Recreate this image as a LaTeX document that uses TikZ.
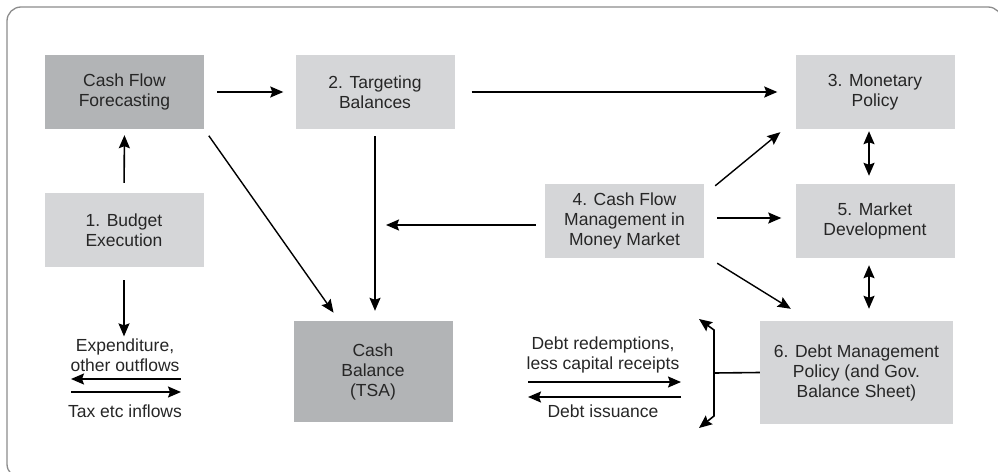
\documentclass[tikz,border=0pt]{standalone}
\usepackage{fontspec}
\setmainfont{Liberation Sans}
\usetikzlibrary{arrows.meta}
\definecolor{boxdark}{HTML}{B2B4B6}
\definecolor{boxlight}{HTML}{D5D6D8}
\definecolor{ink}{HTML}{262626}
\definecolor{rim}{HTML}{8C8C8C}
\tikzset{
  darkbox/.style={fill=boxdark,minimum width=159pt,minimum height=74pt,align=center,text=ink,font=\fontsize{17.5}{20}\selectfont},
  lightbox/.style={darkbox,fill=boxlight},
  flowlabel/.style={align=center,text=ink,inner sep=0pt,font=\fontsize{17.5}{20}\selectfont},
  stream/.style={line width=1.6pt,-{Stealth[length=13pt,width=11pt,inset=2pt]}},
  twoway/.style={line width=1.6pt,{Stealth[length=13pt,width=11pt,inset=2pt]}-{Stealth[length=13pt,width=11pt,inset=2pt]}},
  link/.style={line width=1.6pt}
}

\begin{document}
\begin{tikzpicture}[x=1pt,y=-1pt]
      \clip (0,0) rectangle (998,471);
      \draw[rim,line width=1.3pt,rounded corners=14pt] (7,7) rectangle (1002,478);

      \node[darkbox] (forecast) at (124.5,92) {Cash Flow\\Forecasting};
      \node[lightbox] (target) at (375,92) {2. Targeting\\Balances};
      \node[lightbox] (monetary) at (875,92) {3. Monetary\\Policy};
      \node[lightbox] (budget) at (124,230) {1. Budget\\Execution};
      \node[lightbox] (cfm) at (624.5,221) {4. Cash Flow\\Management in\\Money Market};
      \node[lightbox] (market) at (875,221) {5. Market\\Development};
      \node[darkbox,minimum height=101pt] (cash) at (373,371.5) {Cash\\Balance\\(TSA)};
      \node[lightbox,minimum width=193pt,minimum height=103pt] (debt) at (856.5,372.5) {6. Debt Management\\Policy (and Gov.\\Balance Sheet)};

      \node[flowlabel] (outlabel) at (125,355) {Expenditure,\\other outflows};
      \node[flowlabel] (inlabel) at (125,411) {Tax etc inflows};
      \node[flowlabel] (redlabel) at (603,355) {Debt redemptions,\\less capital receipts};
      \node[flowlabel] (isslabel) at (603,411) {Debt issuance};

      \coordinate (outR) at (181,379);
      \coordinate (outL) at (71,379);
      \coordinate (inL) at (71,392);
      \coordinate (inR) at (181,392);
      \coordinate (redL) at (528,382);
      \coordinate (redR) at (681,382);
      \coordinate (issR) at (681,397);
      \coordinate (issL) at (528,397);
      \coordinate (bmid) at (714,373);
      \coordinate (btop) at (714,330);
      \coordinate (bbot) at (714,416);
      \coordinate (ttop) at (699,319);
      \coordinate (tbot) at (699,428);

      \draw[stream,shorten <=10pt,shorten >=6pt] (budget.north) -- (forecast.south);
      \draw[stream,shorten <=13pt,shorten >=12pt] (forecast.east) -- (target.east -| target.west);
      \draw[stream,shorten <=17pt,shorten >=18pt] (target.east) -- (monetary.west);
      \draw[stream,line width=1.4pt,shorten <=8pt,shorten >=10pt] (forecast.south east) -- ([xshift=46pt]cash.north west);
      \draw[stream,shorten <=7pt,shorten >=10pt] (target.south) -- (target.south |- cash.north);
      \draw[stream,shorten <=9pt,shorten >=11pt] ([yshift=-4pt]cfm.west) -- ([yshift=-4pt]cfm.west -| target.south);
      \draw[stream,line width=1.4pt] ([xshift=11pt,yshift=-2pt]cfm.north east) -- ([xshift=-15pt,yshift=-3pt]monetary.south west);
      \draw[stream,shorten <=13pt,shorten >=14pt] ([yshift=3pt]cfm.east) -- ([yshift=3pt]market.west);
      \draw[stream,line width=1.4pt] ([xshift=13pt,yshift=-5pt]cfm.south east) -- ([xshift=31pt,yshift=12pt]debt.north west);
      \draw[twoway,shorten <=2pt,shorten >=8pt] ([xshift=-6pt]monetary.south) -- ([xshift=-6pt]market.north);
      \draw[twoway,shorten <=7pt,shorten >=12pt] ([xshift=-6pt]market.south) -- ([xshift=-6pt]market.south |- debt.north);

      \draw[stream,shorten <=13pt,shorten >=2pt] (budget.south) -- (budget.south |- outlabel.north);
      \draw[stream] (outR) -- (outL);
      \draw[stream] (inL) -- (inR);
      \draw[stream] (redL) -- (redR);
      \draw[stream] (issR) -- (issL);

      \draw[link] (debt.west) -- (bmid);
      \draw[stream] (bmid) -- (btop) -- (ttop);
      \draw[stream] (bmid) -- (bbot) -- (tbot);
\end{tikzpicture}
\end{document}
